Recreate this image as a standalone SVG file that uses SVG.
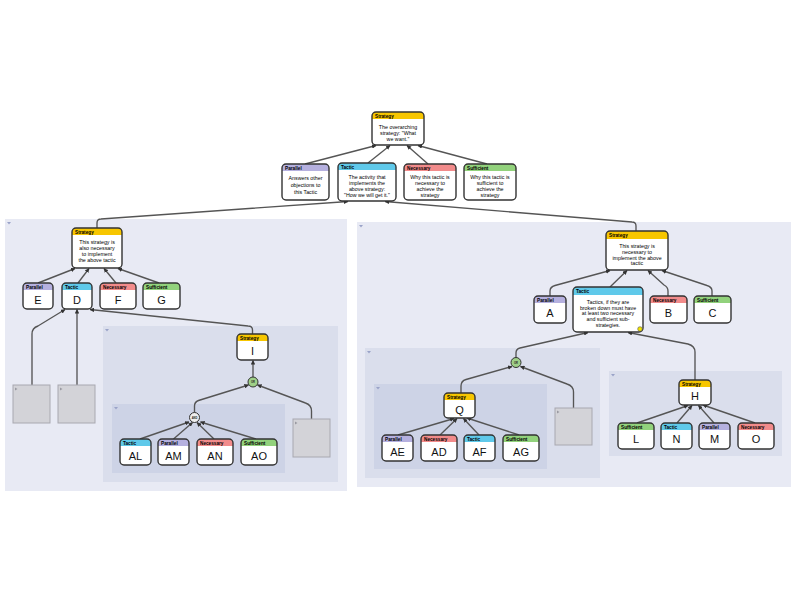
<svg xmlns="http://www.w3.org/2000/svg" width="800" height="600" viewBox="0 0 800 600">
<defs>
<style>
.bg{fill:#ffffff}
.p1{fill:#e8eaf4}
.p2{fill:#dadeec}
.p3{fill:#cdd3e6}
.picon{fill:#9aa3c8}
.gbox{fill:#d3d3d8;stroke:#a8a8b0;stroke-width:1}
.gicon{fill:#9a9aa2}
.box{fill:#ffffff}
.out{fill:none;stroke:#333;stroke-width:1.4}
.hs{fill:#f7c600}
.htc{fill:#5fc9ea}
.hp{fill:#b5b0df}
.hn{fill:#f28b8b}
.hf{fill:#92d27c}
.ht{font-family:"Liberation Sans",Arial,sans-serif;font-size:4.7px;font-weight:bold;fill:#000}
.bt{font-family:"Liberation Sans",Arial,sans-serif;font-size:5.3px;fill:#000;text-anchor:middle}
.lt{font-family:"Liberation Sans",Arial,sans-serif;font-size:11px;fill:#111;text-anchor:middle}
.gate{stroke:#333;stroke-width:1}
.gt{font-family:"Liberation Sans",Arial,sans-serif;font-size:2.6px;font-weight:bold;fill:#222;text-anchor:middle}
.c{fill:none;stroke:#555;stroke-width:1.35;marker-end:url(#ah)}
</style>
<marker id="ah" viewBox="0 0 10 10" refX="9" refY="5" markerWidth="4.5" markerHeight="4.5" markerUnits="userSpaceOnUse" orient="auto">
<path d="M0,0 L10,5 L0,10 z" fill="#333"/>
</marker>
</defs>
<rect class="bg" x="0" y="0" width="800" height="600"/>

<!-- panels -->
<g id="panels">
<rect class="p1" x="5" y="219" width="342" height="272"/>
<polygon class="picon" points="7,222 11,222 9,224.5"/>
<rect class="p2" x="103" y="326" width="235" height="156"/>
<polygon class="picon" points="105,329 109,329 107,331.5"/>
<rect class="p3" x="112" y="404" width="173" height="69"/>
<polygon class="picon" points="114,407 118,407 116,409.5"/>
<rect class="p1" x="357" y="222" width="434" height="265"/>
<polygon class="picon" points="359,225 363,225 361,227.5"/>
<rect class="p2" x="365" y="348" width="235" height="130"/>
<polygon class="picon" points="367,351 371,351 369,353.5"/>
<rect class="p3" x="374" y="384" width="173" height="85"/>
<polygon class="picon" points="376,387 380,387 378,389.5"/>
<rect class="p2" x="609" y="371" width="173" height="85"/>
<polygon class="picon" points="611,374 615,374 613,376.5"/>
</g>

<!-- connectors -->
<g id="connectors">
<path class="c" d="M305,164 L376,145.5"/>
<path class="c" d="M368,163 L390,145.5"/>
<path class="c" d="M428,164 L407,145.5"/>
<path class="c" d="M487,164 L418,145.5"/>
<path class="c" d="M97,228 V223 Q97,219 101,219 L348,201.5"/>
<path class="c" d="M636,231 V226 Q636,222 632,222 L385,201.5"/>
<path class="c" d="M38,283 L75,268.5"/>
<path class="c" d="M78,283 L89,268.5"/>
<path class="c" d="M116,283 L104,268.5"/>
<path class="c" d="M159,283 L118,268.5"/>
<path class="c" d="M32,385 V334 Q32,328 38,326 L65,309.5"/>
<path class="c" d="M77,385 V309.5"/>
<path class="c" d="M252.5,334 V330 Q252.5,326 248,326 L90,309.5"/>
<path class="c" d="M253,377 V360.5"/>
<path class="c" d="M194.5,412.5 V406 Q194.5,402 198.5,400.5 L248.5,385"/>
<path class="c" d="M311.5,419 V411 Q311.5,405 305.5,403 L257.5,385"/>
<path class="c" d="M140,439 L189,422"/>
<path class="c" d="M173.5,439 L192.5,422.5"/>
<path class="c" d="M214,439 L197,422.5"/>
<path class="c" d="M256,439 L200.5,422"/>
<path class="c" d="M550,296 V291 Q550,287 555,285.5 L610,270.5"/>
<path class="c" d="M610,287 L627,270.5"/>
<path class="c" d="M668,296 V291 Q668,287 664,285 L648,270.5"/>
<path class="c" d="M712,296 V291 Q712,287 707,285.5 L662,270.5"/>
<path class="c" d="M516,357.5 V353 Q516,349 520,348 L588,332.5"/>
<path class="c" d="M695,380 V352 Q695,346 688,344 L628,332.5"/>
<path class="c" d="M461,393 V386 Q461,381 466,379.5 L512,366.5"/>
<path class="c" d="M573.5,408 V392 Q573.5,386 567,384 L520.5,366.5"/>
<path class="c" d="M398,435 L454,418.5"/>
<path class="c" d="M440,435 L457,418.5"/>
<path class="c" d="M479,435 L463.5,418.5"/>
<path class="c" d="M519,435 L467,418"/>
<path class="c" d="M637,423 L688,405.5"/>
<path class="c" d="M677,423 L692,405.5"/>
<path class="c" d="M714,423 L698.5,405.5"/>
<path class="c" d="M755,423 L703,405"/>
</g>

<!-- gray boxes -->
<g id="g1"><rect class="gbox" x="13" y="385" width="37" height="38"/><polygon class="gicon" points="15,387.5 17.5,389 15,390.5"/></g>
<g id="g2"><rect class="gbox" x="58" y="385" width="37" height="38"/><polygon class="gicon" points="60,387.5 62.5,389 60,390.5"/></g>
<g id="g3"><rect class="gbox" x="293" y="419" width="37" height="38"/><polygon class="gicon" points="295,421.5 297.5,423 295,424.5"/></g>
<g id="g4"><rect class="gbox" x="555" y="408" width="37" height="37"/><polygon class="gicon" points="557,410.5 559.5,412 557,413.5"/></g>

<!-- gates -->
<g id="or1"><circle class="gate" cx="253" cy="382" r="5" fill="#9fd088"/><text class="gt" x="253" y="383">OR</text></g>
<g id="and1"><circle class="gate" cx="194.5" cy="417.5" r="5" fill="#eeeeee"/><text class="gt" x="194.5" y="418.5">AND</text></g>
<g id="or2"><circle class="gate" cx="516" cy="362.5" r="5" fill="#9fd088"/><text class="gt" x="516" y="363.5">OR</text></g>

<!-- top nodes -->
<g id="n-root">
<rect class="box" x="372" y="112" width="52" height="33" rx="4"/>
<path class="hs" d="M372,119 V116 Q372,112 376,112 H420 Q424,112 424,116 V119 Z"/>
<rect class="out" x="372" y="112" width="52" height="33" rx="4"/>
<text class="ht" x="375" y="117.5">Strategy</text>
<text class="bt" x="398" y="128.5">The overarching</text>
<text class="bt" x="398" y="134.5">strategy: "What</text>
<text class="bt" x="398" y="140.5">we want."</text>
</g>
<g id="n-parallel">
<rect class="box" x="282" y="164" width="47" height="36" rx="4"/>
<path class="hp" d="M282,171 V168 Q282,164 286,164 H325 Q329,164 329,168 V171 Z"/>
<rect class="out" x="282" y="164" width="47" height="36" rx="4"/>
<text class="ht" x="285" y="169.5">Parallel</text>
<text class="bt" x="305.5" y="179.5">Answers other</text>
<text class="bt" x="305.5" y="186.5">objections to</text>
<text class="bt" x="305.5" y="193.5">this Tactic</text>
</g>
<g id="n-tactic">
<rect class="box" x="338" y="163" width="58" height="38" rx="4"/>
<path class="htc" d="M338,170 V167 Q338,163 342,163 H392 Q396,163 396,167 V170 Z"/>
<rect class="out" x="338" y="163" width="58" height="38" rx="4"/>
<text class="ht" x="341" y="168.5">Tactic</text>
<text class="bt" x="367" y="178.5">The activity that</text>
<text class="bt" x="367" y="184.5">implements the</text>
<text class="bt" x="367" y="190.5">above strategy:</text>
<text class="bt" x="367" y="196.5">"How we will get it."</text>
</g>
<g id="n-necessary">
<rect class="box" x="404" y="164" width="52" height="36" rx="4"/>
<path class="hn" d="M404,171 V168 Q404,164 408,164 H452 Q456,164 456,168 V171 Z"/>
<rect class="out" x="404" y="164" width="52" height="36" rx="4"/>
<text class="ht" x="407" y="169.5">Necessary</text>
<text class="bt" x="430" y="178.5">Why this tactic is</text>
<text class="bt" x="430" y="184.5">necessary to</text>
<text class="bt" x="430" y="190.5">achieve the</text>
<text class="bt" x="430" y="196.5">strategy</text>
</g>
<g id="n-sufficient">
<rect class="box" x="464" y="164" width="52" height="36" rx="4"/>
<path class="hf" d="M464,171 V168 Q464,164 468,164 H512 Q516,164 516,168 V171 Z"/>
<rect class="out" x="464" y="164" width="52" height="36" rx="4"/>
<text class="ht" x="467" y="169.5">Sufficient</text>
<text class="bt" x="490" y="178.5">Why this tactic is</text>
<text class="bt" x="490" y="184.5">sufficient to</text>
<text class="bt" x="490" y="190.5">achieve the</text>
<text class="bt" x="490" y="196.5">strategy</text>
</g>

<!-- left panel nodes -->
<g id="n-ls">
<rect class="box" x="72" y="228" width="50" height="40" rx="4"/>
<path class="hs" d="M72,235 V232 Q72,228 76,228 H118 Q122,228 122,232 V235 Z"/>
<rect class="out" x="72" y="228" width="50" height="40" rx="4"/>
<text class="ht" x="75" y="233.5">Strategy</text>
<text class="bt" x="97" y="243.5">This strategy is</text>
<text class="bt" x="97" y="249.5">also necessary</text>
<text class="bt" x="97" y="255.5">to implement</text>
<text class="bt" x="97" y="261.5">the above tactic</text>
</g>
<g id="n-E">
<rect class="box" x="23" y="283" width="30" height="26" rx="4"/>
<path class="hp" d="M23,290 V287 Q23,283 27,283 H49 Q53,283 53,287 V290 Z"/>
<rect class="out" x="23" y="283" width="30" height="26" rx="4"/>
<text class="ht" x="26" y="288.5">Parallel</text>
<text class="lt" x="38" y="303.5">E</text>
</g>
<g id="n-D">
<rect class="box" x="62" y="283" width="30" height="26" rx="4"/>
<path class="htc" d="M62,290 V287 Q62,283 66,283 H88 Q92,283 92,287 V290 Z"/>
<rect class="out" x="62" y="283" width="30" height="26" rx="4"/>
<text class="ht" x="65" y="288.5">Tactic</text>
<text class="lt" x="77" y="303.5">D</text>
</g>
<g id="n-F">
<rect class="box" x="100" y="283" width="36" height="26" rx="4"/>
<path class="hn" d="M100,290 V287 Q100,283 104,283 H132 Q136,283 136,287 V290 Z"/>
<rect class="out" x="100" y="283" width="36" height="26" rx="4"/>
<text class="ht" x="103" y="288.5">Necessary</text>
<text class="lt" x="118" y="303.5">F</text>
</g>
<g id="n-G">
<rect class="box" x="143" y="283" width="37" height="26" rx="4"/>
<path class="hf" d="M143,290 V287 Q143,283 147,283 H176 Q180,283 180,287 V290 Z"/>
<rect class="out" x="143" y="283" width="37" height="26" rx="4"/>
<text class="ht" x="146" y="288.5">Sufficient</text>
<text class="lt" x="161.5" y="303.5">G</text>
</g>
<g id="n-I">
<rect class="box" x="237" y="334" width="31" height="26" rx="4"/>
<path class="hs" d="M237,341 V338 Q237,334 241,334 H264 Q268,334 268,338 V341 Z"/>
<rect class="out" x="237" y="334" width="31" height="26" rx="4"/>
<text class="ht" x="240" y="339.5">Strategy</text>
<text class="lt" x="252.5" y="354.5">I</text>
</g>
<g id="n-AL">
<rect class="box" x="120" y="439" width="31" height="26" rx="4"/>
<path class="htc" d="M120,446 V443 Q120,439 124,439 H147 Q151,439 151,443 V446 Z"/>
<rect class="out" x="120" y="439" width="31" height="26" rx="4"/>
<text class="ht" x="123" y="444.5">Tactic</text>
<text class="lt" x="135.5" y="459.5">AL</text>
</g>
<g id="n-AM">
<rect class="box" x="158" y="439" width="31" height="26" rx="4"/>
<path class="hp" d="M158,446 V443 Q158,439 162,439 H185 Q189,439 189,443 V446 Z"/>
<rect class="out" x="158" y="439" width="31" height="26" rx="4"/>
<text class="ht" x="161" y="444.5">Parallel</text>
<text class="lt" x="173.5" y="459.5">AM</text>
</g>
<g id="n-AN">
<rect class="box" x="197" y="439" width="36" height="26" rx="4"/>
<path class="hn" d="M197,446 V443 Q197,439 201,439 H229 Q233,439 233,443 V446 Z"/>
<rect class="out" x="197" y="439" width="36" height="26" rx="4"/>
<text class="ht" x="200" y="444.5">Necessary</text>
<text class="lt" x="215" y="459.5">AN</text>
</g>
<g id="n-AO">
<rect class="box" x="241" y="439" width="36" height="26" rx="4"/>
<path class="hf" d="M241,446 V443 Q241,439 245,439 H273 Q277,439 277,443 V446 Z"/>
<rect class="out" x="241" y="439" width="36" height="26" rx="4"/>
<text class="ht" x="244" y="444.5">Sufficient</text>
<text class="lt" x="259" y="459.5">AO</text>
</g>

<!-- right panel nodes -->
<g id="n-rs">
<rect class="box" x="606" y="231" width="62" height="39" rx="4"/>
<path class="hs" d="M606,239 V235 Q606,231 610,231 H664 Q668,231 668,235 V239 Z"/>
<rect class="out" x="606" y="231" width="62" height="39" rx="4"/>
<text class="ht" x="609" y="236.8">Strategy</text>
<text class="bt" x="637" y="247.5">This strategy is</text>
<text class="bt" x="637" y="253.5">necessary to</text>
<text class="bt" x="637" y="259.5">implement the above</text>
<text class="bt" x="637" y="265.3">tactic</text>
</g>
<g id="n-A">
<rect class="box" x="534" y="296" width="32" height="27" rx="4"/>
<path class="hp" d="M534,303 V300 Q534,296 538,296 H562 Q566,296 566,300 V303 Z"/>
<rect class="out" x="534" y="296" width="32" height="27" rx="4"/>
<text class="ht" x="537" y="301.5">Parallel</text>
<text class="lt" x="550" y="317">A</text>
</g>
<g id="n-rt">
<rect class="box" x="573" y="287" width="70" height="45" rx="4"/>
<path class="htc" d="M573,295 V291 Q573,287 577,287 H639 Q643,287 643,291 V295 Z"/>
<rect class="out" x="573" y="287" width="70" height="45" rx="4"/>
<text class="ht" x="576" y="292.8">Tactic</text>
<text class="bt" x="608" y="304">Tactics, if they are</text>
<text class="bt" x="608" y="309.7">broken down must have</text>
<text class="bt" x="608" y="315.4">at least two necessary</text>
<text class="bt" x="608" y="321.1">and sufficient sub-</text>
<text class="bt" x="608" y="326.8">strategies.</text>
<circle cx="640" cy="329" r="2.3" fill="#f3e400" stroke="#555" stroke-width="0.6"/>
</g>
<g id="n-B">
<rect class="box" x="650" y="296" width="37" height="27" rx="4"/>
<path class="hn" d="M650,303 V300 Q650,296 654,296 H683 Q687,296 687,300 V303 Z"/>
<rect class="out" x="650" y="296" width="37" height="27" rx="4"/>
<text class="ht" x="653" y="301.5">Necessary</text>
<text class="lt" x="668.5" y="317">B</text>
</g>
<g id="n-C">
<rect class="box" x="694" y="296" width="37" height="27" rx="4"/>
<path class="hf" d="M694,303 V300 Q694,296 698,296 H727 Q731,296 731,300 V303 Z"/>
<rect class="out" x="694" y="296" width="37" height="27" rx="4"/>
<text class="ht" x="697" y="301.5">Sufficient</text>
<text class="lt" x="712.5" y="317">C</text>
</g>
<g id="n-Q">
<rect class="box" x="444" y="393" width="31" height="25" rx="4"/>
<path class="hs" d="M444,400 V397 Q444,393 448,393 H471 Q475,393 475,397 V400 Z"/>
<rect class="out" x="444" y="393" width="31" height="25" rx="4"/>
<text class="ht" x="447" y="398.5">Strategy</text>
<text class="lt" x="459.5" y="414">Q</text>
</g>
<g id="n-AE">
<rect class="box" x="382" y="435" width="31" height="26" rx="4"/>
<path class="hp" d="M382,442 V439 Q382,435 386,435 H409 Q413,435 413,439 V442 Z"/>
<rect class="out" x="382" y="435" width="31" height="26" rx="4"/>
<text class="ht" x="385" y="440.5">Parallel</text>
<text class="lt" x="397.5" y="455.5">AE</text>
</g>
<g id="n-AD">
<rect class="box" x="421" y="435" width="36" height="26" rx="4"/>
<path class="hn" d="M421,442 V439 Q421,435 425,435 H453 Q457,435 457,439 V442 Z"/>
<rect class="out" x="421" y="435" width="36" height="26" rx="4"/>
<text class="ht" x="424" y="440.5">Necessary</text>
<text class="lt" x="439" y="455.5">AD</text>
</g>
<g id="n-AF">
<rect class="box" x="464" y="435" width="31" height="26" rx="4"/>
<path class="htc" d="M464,442 V439 Q464,435 468,435 H491 Q495,435 495,439 V442 Z"/>
<rect class="out" x="464" y="435" width="31" height="26" rx="4"/>
<text class="ht" x="467" y="440.5">Tactic</text>
<text class="lt" x="479.5" y="455.5">AF</text>
</g>
<g id="n-AG">
<rect class="box" x="503" y="435" width="36" height="26" rx="4"/>
<path class="hf" d="M503,442 V439 Q503,435 507,435 H535 Q539,435 539,439 V442 Z"/>
<rect class="out" x="503" y="435" width="36" height="26" rx="4"/>
<text class="ht" x="506" y="440.5">Sufficient</text>
<text class="lt" x="521" y="455.5">AG</text>
</g>
<g id="n-H">
<rect class="box" x="679" y="380" width="32" height="25" rx="4"/>
<path class="hs" d="M679,387 V384 Q679,380 683,380 H707 Q711,380 711,384 V387 Z"/>
<rect class="out" x="679" y="380" width="32" height="25" rx="4"/>
<text class="ht" x="682" y="385.5">Strategy</text>
<text class="lt" x="695" y="400">H</text>
</g>
<g id="n-L">
<rect class="box" x="618" y="423" width="36" height="26" rx="4"/>
<path class="hf" d="M618,430 V427 Q618,423 622,423 H650 Q654,423 654,427 V430 Z"/>
<rect class="out" x="618" y="423" width="36" height="26" rx="4"/>
<text class="ht" x="621" y="428.5">Sufficient</text>
<text class="lt" x="636" y="442.5">L</text>
</g>
<g id="n-N">
<rect class="box" x="661" y="423" width="31" height="26" rx="4"/>
<path class="htc" d="M661,430 V427 Q661,423 665,423 H688 Q692,423 692,427 V430 Z"/>
<rect class="out" x="661" y="423" width="31" height="26" rx="4"/>
<text class="ht" x="664" y="428.5">Tactic</text>
<text class="lt" x="676.5" y="442.5">N</text>
</g>
<g id="n-M">
<rect class="box" x="699" y="423" width="31" height="26" rx="4"/>
<path class="hp" d="M699,430 V427 Q699,423 703,423 H726 Q730,423 730,427 V430 Z"/>
<rect class="out" x="699" y="423" width="31" height="26" rx="4"/>
<text class="ht" x="702" y="428.5">Parallel</text>
<text class="lt" x="714.5" y="442.5">M</text>
</g>
<g id="n-O">
<rect class="box" x="738" y="423" width="36" height="26" rx="4"/>
<path class="hn" d="M738,430 V427 Q738,423 742,423 H770 Q774,423 774,427 V430 Z"/>
<rect class="out" x="738" y="423" width="36" height="26" rx="4"/>
<text class="ht" x="741" y="428.5">Necessary</text>
<text class="lt" x="756" y="442.5">O</text>
</g>
</svg>
